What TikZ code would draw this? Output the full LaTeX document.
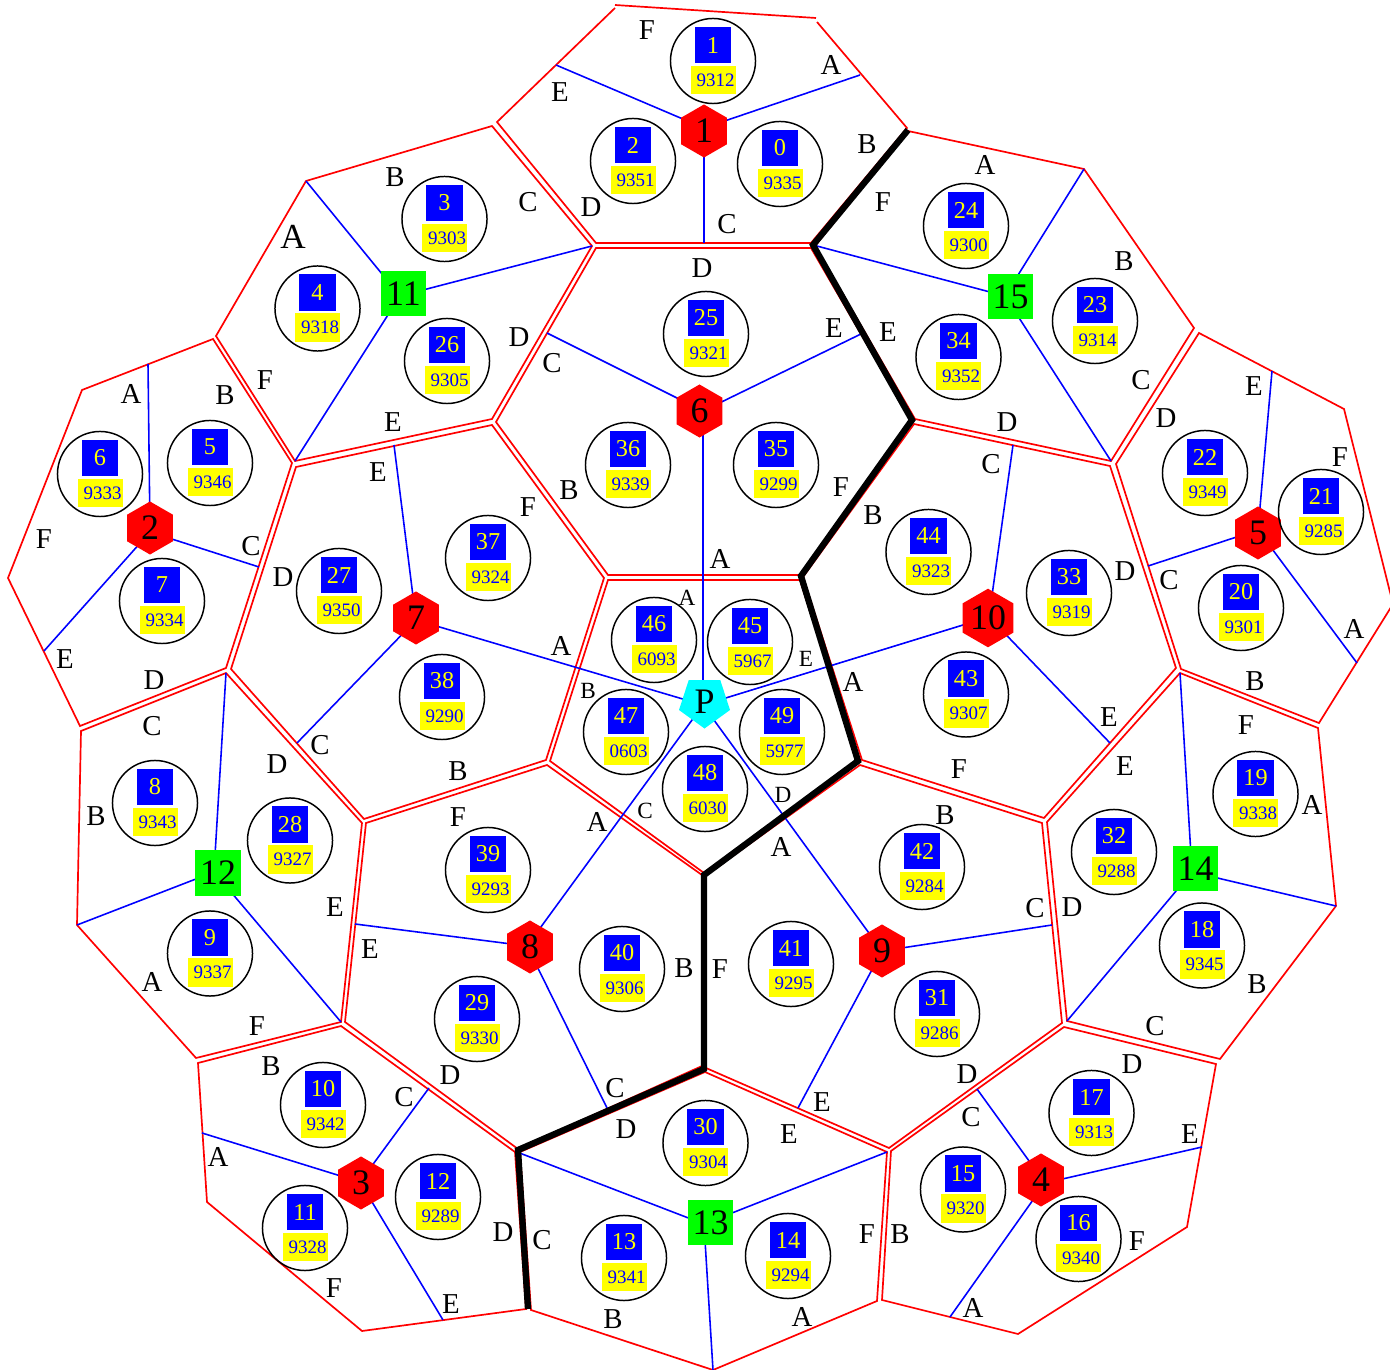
\documentclass[tikz,border=0pt]{standalone}
\usepackage{fontspec}
\setmainfont{Liberation Serif}
\usetikzlibrary{shapes.geometric}
\definecolor{tagyellow}{RGB}{255,255,0}
\definecolor{hubcyan}{RGB}{0,255,255}
\definecolor{hubgreen}{RGB}{0,255,0}
\definecolor{wallred}{RGB}{255,0,0}
\definecolor{spokeblue}{RGB}{0,0,255}

\begin{document}
\begin{tikzpicture}[
    x=0.01cm, y=-0.01cm,
    wall/.style={draw=wallred, line width=0.48pt, line join=miter},
    spoke/.style={draw=spokeblue, line width=0.45pt},
    seam/.style={draw=black, line width=1.8pt, line join=miter},
    hole/.style={draw=black, circle, minimum size=0.85cm, inner sep=0pt, line width=0.42pt},
    numbox/.style={fill=spokeblue, text=tagyellow, minimum size=0.36cm, inner sep=0pt,
                   font=\fontsize{6.9}{6.9}\selectfont},
    codebox/.style={fill=tagyellow, text=spokeblue, minimum width=0.45cm, minimum height=0.28cm,
                    inner sep=0pt, font=\fontsize{5.4}{5.4}\selectfont},
    hexhub/.style={fill=wallred, regular polygon, regular polygon sides=6, regular polygon rotate=30,
                   minimum size=0.53cm, inner sep=0pt, font=\fontsize{10.2}{10.2}\selectfont},
    sqhub/.style={fill=hubgreen, minimum size=0.45cm, inner sep=0pt,
                  font=\fontsize{10.2}{10.2}\selectfont},
    penthub/.style={fill=hubcyan, regular polygon, regular polygon sides=5, regular polygon rotate=180,
                    minimum size=0.536cm, inner sep=0pt, font=\fontsize{10.2}{10.2}\selectfont},
    side/.style={inner sep=0pt, font=\fontsize{8.2}{8.2}\selectfont},
    smallside/.style={inner sep=0pt, font=\fontsize{6.6}{6.6}\selectfont},
  ]
  \useasboundingbox (0,0) rectangle (1390,1370);

  % Cell outlines
  \draw[wall] (615,8) -- (497,122) -- (596,243) -- (811,243) -- (907,128) -- (817,22);
  \draw[wall] (615,5) -- (816,18);
  \draw[wall] (492,126) -- (306,181) -- (216,336) -- (295,461) -- (492,419) -- (592,246) -- cycle;
  \draw[wall] (908,131) -- (1084,169) -- (1194,328) -- (1111,461) -- (915,419) -- (815,246) -- cycle;
  \draw[wall] (596,248) -- (811,248) -- (911,420) -- (800,575) -- (608,575) -- (496,422) -- cycle;
  \draw[wall] (608,580) -- (800,580) -- (858,761) -- (704,873) -- (550,761) -- cycle;
  \draw[wall] (296,467) -- (492,425) -- (604,578) -- (546,760) -- (364,819) -- (231,669) -- cycle;
  \draw[wall] (914,424) -- (1110,466) -- (1176,668) -- (1044,818) -- (862,760) -- (803,577) -- cycle;
  \draw[wall] (82,390) -- (213,339) -- (292,463) -- (226,668) -- (80,726) -- (8,578) -- cycle;
  \draw[wall] (1199,333) -- (1344,409) -- (1393,604) -- (1319,723) -- (1181,669) -- (1116,464) -- cycle;
  \draw[wall] (81,731) -- (226,673) -- (362,823) -- (341,1022) -- (196,1058) -- (77,925) -- cycle;
  \draw[wall] (1180,673) -- (1318,728) -- (1336,906) -- (1220,1059) -- (1067,1021) -- (1047,822) -- cycle;
  \draw[wall] (366,823) -- (547,765) -- (702,875) -- (702,1066) -- (518,1149) -- (345,1022) -- cycle;
  \draw[wall] (860,765) -- (1042,823) -- (1062,1023) -- (889,1148) -- (706,1068) -- (706,875) -- cycle;
  \draw[wall] (198,1063) -- (341,1026) -- (515,1152) -- (526,1309) -- (362,1331) -- (207,1202) -- cycle;
  \draw[wall] (520,1152) -- (705,1072) -- (887,1152) -- (877,1301) -- (713,1370) -- (531,1310) -- cycle;
  \draw[wall] (891,1151) -- (1064,1027) -- (1216,1064) -- (1187,1227) -- (1018,1334) -- (882,1300) -- cycle;

  % Joints where the spokes of a cell meet
  \foreach \n/\x/\y in {1/704/128, 2/150/532, 3/360/1182, 4/1045/1183, 5/1258/530,
                        6/703/411, 7/416/620, 8/527/946, 9/882/951, 10/989/617,
                        11/400/296, 12/214/872, 13/704/1224, 14/1192/872, 15/1005/296,
                        P/703/705}
    \coordinate (joint\n) at (\x,\y);

  % Spokes out to the cell walls
  \foreach \h/\x/\y [count=\i] in {1/556/65, 1/860/75, 1/704/243,
      11/306/181, 11/295/461, 11/592/246,
      15/1084/169, 15/1111/461, 15/813/245,
      6/547/333, 6/863/333,
      7/394/445, 7/297/743,
      10/1013/445, 10/1110/743,
      2/148/364, 2/259/567, 2/44/651,
      5/1272/371, 5/1357/663, 5/1148/566,
      12/226/673, 12/77/925, 12/341/1022,
      14/1180/673, 14/1336/906, 14/1067/1021,
      8/355/924, 8/607/1108,
      9/1052/925, 9/798/1108,
      3/202/1133, 3/429/1088, 3/443/1320,
      13/517/1152, 13/887/1152, 13/713/1370,
      4/977/1089, 4/1202/1147, 4/950/1317} {
    \coordinate (end\i) at (\x,\y);
    \draw[spoke] (joint\h) -- (end\i);
  }
  \foreach \h in {6,7,8,9,10}
    \draw[spoke] (jointP) -- (joint\h);

  % Seam
  \draw[seam] (908,130) -- (813,245) -- (912,420) -- (801,576) -- (858,761)
    -- (704,875) -- (704,1069) -- (518,1150) -- (528,1309);

  % Hubs
  \foreach \n/\x/\y in {1/704/131, 2/150/528, 3/361/1183, 4/1041/1180, 5/1258/533,
                        6/699.5/411, 7/416/618, 8/530/947, 9/882/951, 10/988/618}
    \node[hexhub] (hub\n) at (\x,\y) {\n};
  \foreach \n/\x/\y in {11/403.5/293.5, 12/218/873, 13/710.5/1222.5, 14/1195.5/868.5, 15/1010.5/296.5}
    \node[sqhub] (hub\n) at (\x,\y) {\n};
  \node[penthub] (hubP) at (704.5,701.7) {P};

  % Holes
  \foreach \n/\x/\y/\c in {0/780/164/9335, 1/713/61/9312, 2/633/161/9351, 3/444.5/219/9303,
      4/317.5/308.5/9318, 5/210/463/9346, 6/100/474/9333, 7/162/601/9334, 8/155/803/9343,
      9/210/953.5/9337, 10/323/1105/9342, 11/305/1228/9328, 12/438/1197/9289, 13/624/1258/9341,
      14/788/1256/9294, 15/963/1189.5/9320, 16/1078.5/1239/9340, 17/1091.5/1113/9313, 18/1202/945.5/9345,
      19/1255.5/794/9338, 20/1241/608/9301, 21/1321/512/9285, 22/1205/473/9349, 23/1095/321/9314,
      24/966/226/9300, 25/706/334/9321, 26/447/361/9305, 27/339/591/9350, 28/290/840.5/9327,
      29/477/1019/9330, 30/705.5/1143/9304, 31/937/1014/9286, 32/1114/852/9288, 33/1069/593/9319,
      34/958.5/357/9352, 35/776/465/9299, 36/628/465/9339, 37/488/558/9324, 38/442/697/9290,
      39/488/870/9293, 40/622/969/9306, 41/791/964/9295, 42/922/867/9284, 43/966/694.5/9307,
      44/928.5/552/9323, 45/750/642/5967, 46/654/640/6093, 47/626/732/0603, 48/705/789/6030,
      49/782/732/5977} {
    \node[hole] (hole\n) at (\x,\y) {};
    \node[numbox] (num\n) at (\x,\y-16) {\n};
    \node[codebox] (code\n) at (\x+0.3,\y+19) {\hspace{1.3pt}\c};
  }

  % Side letters
  \foreach \t/\x/\y [count=\i] in {F/647/30, A/831/65, B/867/144, C/727/224, D/591/207, E/560/92,
      B/395/177, C/528/202, D/519/337, E/393/422, F/265/380,
      A/985/165, B/1124/261, C/1141/380, D/1007/422, E/888/332, F/883/202,
      D/702/268, E/834/328, F/841/487, A/720/559, B/569/490, C/552/363,
      E/378/472, F/528/507, A/561/646, B/458/771, C/320/745, D/283/577,
      C/991/464, D/1125/571, E/1109/717, F/959/769, A/853/682, B/873/515,
      A/131/394, B/225/395, C/251/546, D/154/680, E/65/659, F/44/539,
      E/1254/386, F/1340/457, A/1354/629, B/1255/681, C/1169/580, D/1166/418,
      C/152/726, D/277/764, E/335/907, F/257/1026, A/152/982, B/96/816,
      F/1246/725, A/1312/805, B/1257/984, C/1155/1026, D/1072/907, E/1125/766,
      F/458/817, A/597/822, B/684/968, C/615/1088, D/450/1075, E/370/949,
      A/781/847, B/945/815, C/1035/908, D/967/1074, E/822/1102, F/720/969,
      B/271/1066, C/404/1097, D/503/1232, E/451/1304, F/334/1288, A/218/1157,
      D/626/1129, E/789/1134, F/867/1234, A/802/1317, B/613/1319, C/542/1240,
      D/1132/1064, E/1190/1134, F/1137/1241, A/973/1308, B/900/1234, C/971/1117}
    \node[side] (side\i) at (\x,\y) {\t};
  \node[side, font=\fontsize{10}{10}\selectfont] (sidebig) at (293,237) {A};
  \foreach \t/\x/\y [count=\i] in {A/687/598, B/588/691, C/645/811, D/783/795, E/806/659}
    \node[smallside] (inner\i) at (\x,\y) {\t};
\end{tikzpicture}
\end{document}
